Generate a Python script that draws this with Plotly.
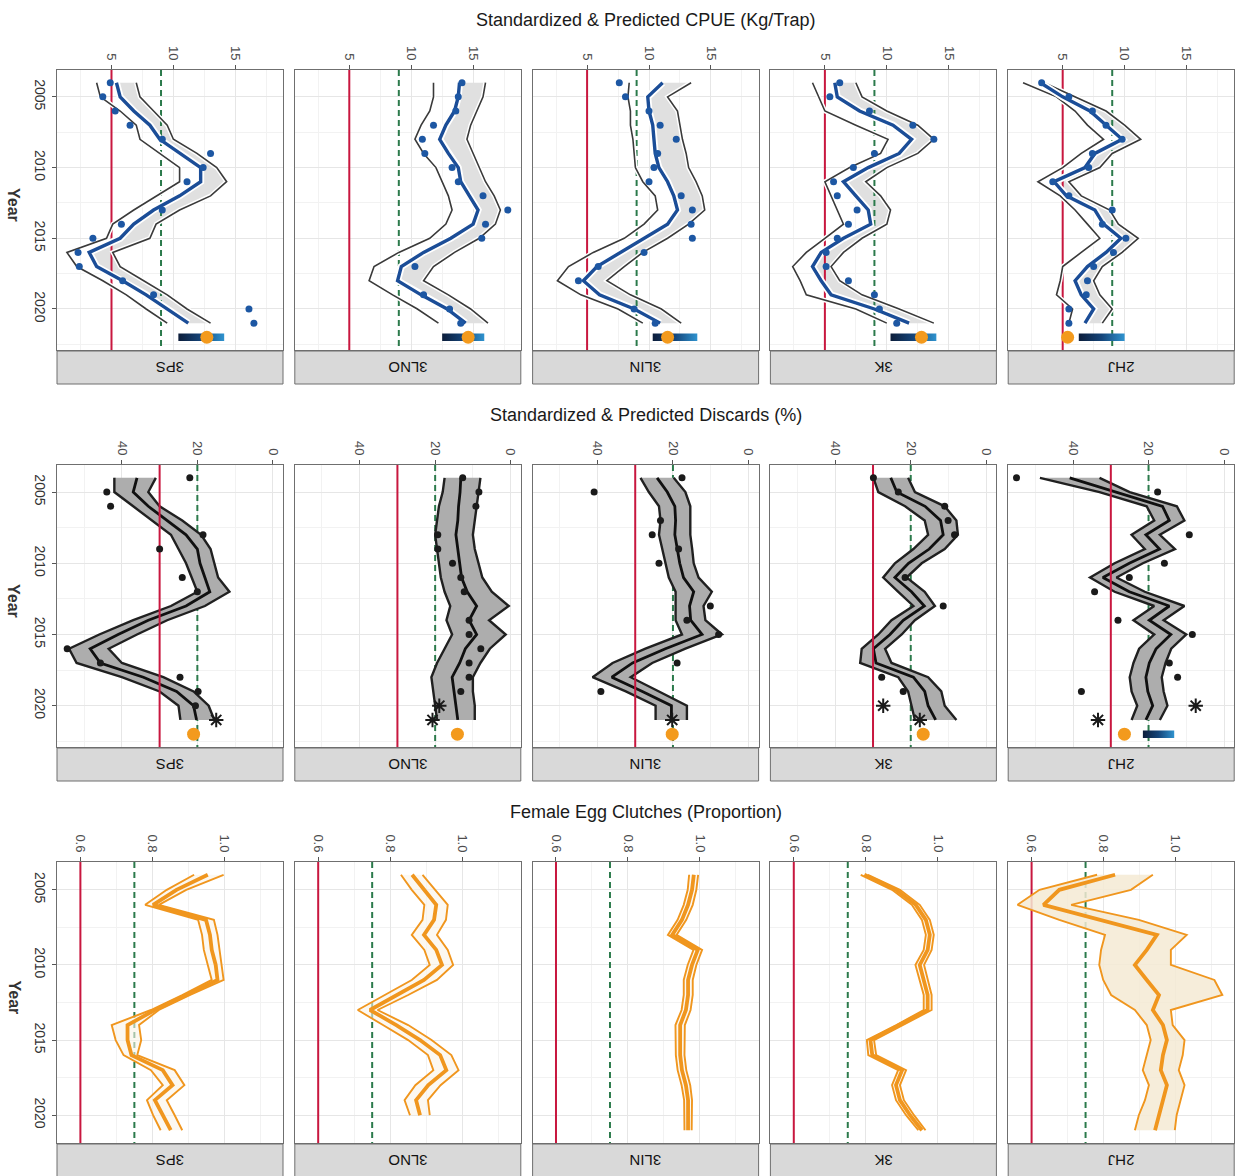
import plotly.graph_objects as go

W, H = 1244, 1176
FONT = "Liberation Sans, Arial, sans-serif"

years = list(range(2004, 2022))
proj_year = 2022
regions = ["3PS", "3LNO", "3LIN", "3K", "2HJ"]

# ---------------- CPUE (kg/trap) ----------------
cpue_mean_3PS = [5.4, 5.7, 6.8, 8.1, 8.9, 10.5, 12.2, 12.2, 10.5, 8.4, 6.8, 5.7, 3.2, 3.8, 5.9, 7.8, 9.5, 11.2]
cpue_lo_3PS = [3.8, 4.1, 5.7, 7.0, 7.3, 8.9, 10.5, 10.5, 8.6, 6.8, 5.1, 4.6, 1.4, 2.2, 4.3, 6.2, 7.8, 9.5]
cpue_hi_3PS = [7.0, 7.3, 8.4, 9.5, 10.0, 11.9, 13.5, 14.3, 13.0, 10.5, 8.6, 8.1, 5.1, 5.7, 7.6, 9.5, 11.1, 13.0]
cpue_obs_3PS = [4.9, 4.3, 5.3, 6.5, 9.1, 13.0, 12.4, 11.1, None, 9.1, 5.8, 3.5, 2.3, 2.4, 5.9, 8.4, 16.1, 16.5]

cpue_mean_3LNO = [13.9, 13.8, 13.5, 12.8, 12.3, 13.0, 13.8, 14.0, 14.7, 15.4, 15.0, 13.2, 11.0, 9.2, 8.9, 10.8, 12.9, 14.4]
cpue_lo_3LNO = [11.8, 11.8, 11.5, 10.8, 10.3, 11.0, 12.0, 12.5, 13.0, 13.3, 12.8, 11.5, 9.0, 7.0, 6.6, 8.5, 10.5, 12.2]
cpue_hi_3LNO = [16.0, 15.8, 15.3, 14.8, 14.5, 15.0, 15.5, 16.0, 16.7, 17.2, 16.8, 15.5, 13.5, 11.8, 11.0, 13.0, 14.8, 16.2]
cpue_obs_3LNO = [14.1, 13.8, 13.6, 11.8, 10.9, 11.1, 13.3, 13.8, 15.8, 17.8, 16.0, 15.7, None, 10.3, None, 11.0, 13.1, 14.0]

cpue_mean_3LIN = [11.1, 9.9, 10.0, 10.3, 10.4, 10.5, 10.8, 11.5, 12.0, 12.3, 11.5, 9.6, 7.8, 5.8, 4.7, 6.0, 8.8, 10.9]
cpue_lo_3LIN = [8.4, 8.3, 8.5, 8.5, 8.7, 8.8, 8.9, 9.5, 10.5, 10.7, 9.6, 8.0, 5.5, 3.5, 2.6, 4.5, 7.5, 9.5]
cpue_hi_3LIN = [13.4, 11.5, 12.3, 12.5, 12.7, 13.0, 13.2, 13.8, 14.3, 14.5, 13.2, 11.5, 9.5, 8.0, 6.6, 8.5, 11.0, 12.6]
cpue_obs_3LIN = [7.6, 8.1, 10.0, 10.9, 12.2, 10.7, 10.4, 10.0, 12.6, 13.5, 13.4, 13.5, 9.6, 5.9, 4.3, None, 8.8, 10.5]

cpue_mean_3K = [5.8, 6.0, 7.8, 10.5, 12.0, 11.0, 8.5, 6.5, 7.5, 8.5, 8.7, 6.5, 4.7, 4.0, 4.7, 5.5, 9.0, 11.8]
cpue_lo_3K = [4.0, 4.5, 5.0, 7.5, 10.1, 9.5, 7.0, 5.0, 5.5, 6.0, 6.5, 5.0, 3.5, 2.4, 3.0, 3.5, 7.5, 10.0]
cpue_hi_3K = [7.5, 8.0, 10.0, 12.5, 13.8, 12.5, 10.0, 8.3, 9.5, 10.3, 10.0, 8.0, 6.5, 5.5, 6.2, 8.0, 11.0, 13.8]
cpue_obs_3K = [6.2, 5.4, 8.6, 12.1, 13.8, 9.0, 7.3, 5.7, 6.0, 7.6, 6.9, 6.0, 5.1, 5.1, 6.9, 9.0, 9.4, 10.8]

cpue_mean_2HJ = [3.2, 5.0, 7.2, 8.5, 9.8, 7.6, 6.8, 4.3, 5.3, 7.6, 8.3, 9.7, 8.5, 7.0, 6.0, 6.5, 7.5, 6.8]
cpue_lo_2HJ = [1.8, 4.5, 6.0, 7.0, 8.3, 6.5, 5.0, 3.0, 4.8, 6.0, 7.0, 8.0, 6.5, 5.0, 4.8, 4.5, 5.8, 5.5]
cpue_hi_2HJ = [3.5, 6.0, 8.5, 10.0, 11.3, 9.0, 8.0, 5.5, 6.5, 8.8, 9.5, 11.1, 9.8, 8.2, 7.5, 8.0, 9.0, 8.2]
cpue_obs_2HJ = [3.3, 5.5, 7.4, 8.5, 9.8, 7.4, 7.1, 4.2, 5.5, 9.0, 8.2, 10.1, 9.1, 7.5, 7.0, 6.9, 5.5, 5.5]

# 2022 projection: range of predicted values and point estimate
cpue_proj_lo = [10.4, 12.5, 10.3, 10.3, 6.3]
cpue_proj_hi = [14.1, 15.9, 13.9, 14.0, 10.0]
cpue_proj_est = [12.7, 14.6, 11.5, 12.8, 5.4]

# ---------------- Discards (%) ----------------
disc_mean_3PS = [36.0, 37.0, 33.0, 28.0, 23.0, 20.0, 19.3, 18.0, 16.7, 23.0, 33.0, 41.0, 48.4, 45.7, 34.3, 25.5, 21.0, 20.2]
disc_hi_3PS = [42, 42, 37, 32, 27, 25, 23, 21.5, 20, 27, 37, 46, 54, 52, 40, 30, 25, 24.5]
disc_lo_3PS = [31, 33, 30, 24, 19, 16.5, 15.5, 14.5, 11.5, 18, 28, 36, 43.5, 40, 29, 21, 17, 15.5]
disc_obs_3PS = [22, 44, 43, None, 18.5, 30, None, 24, 20, None, None, None, 54.5, 45.7, 24.6, 19.8, 20.5, None]

disc_mean_3LNO = [13.2, 13.4, 13.8, 14.0, 14.5, 14.0, 13.6, 13.0, 11.5, 9.0, 11.0, 9.0, 12.0, 13.5, 15.5, 15.0, 14.5, 14.0]
disc_hi_3LNO = [17.5, 18.0, 19.0, 19.5, 20.0, 19.5, 19.0, 18.5, 17.5, 16.0, 17.0, 15.5, 17.5, 19.5, 21.0, 20.5, 20.0, 19.5]
disc_lo_3LNO = [8.0, 8.5, 9.0, 9.5, 10.0, 9.5, 8.5, 7.5, 5.0, 0.5, 5.7, 1.3, 5.5, 8.0, 10.0, 10.0, 9.5, 9.5]
disc_obs_3LNO = [12.7, 8.4, 9.2, None, 19.3, 19.3, 15.4, 13.2, 12.3, None, 11.0, 11.0, 7.9, 11.0, 11.0, 13.2, None, None]

disc_mean_3LIN = [24.2, 21.5, 19.5, 19.3, 19.5, 18.9, 18.2, 17.2, 14.5, 15.6, 15.3, 12.3, 22.0, 30.7, 36.2, 28.1, 20.4, 20.4]
disc_hi_3LIN = [28.6, 26.4, 23.7, 23.3, 23.7, 22.9, 22.0, 21.1, 19.3, 19.3, 19.3, 17.6, 27.3, 36.0, 41.3, 32.5, 24.6, 24.6]
disc_lo_3LIN = [19.8, 16.7, 15.4, 15.4, 15.4, 14.9, 14.5, 13.2, 9.7, 11.9, 11.4, 7.0, 16.7, 25.5, 31.2, 23.7, 16.3, 16.3]
disc_obs_3LIN = [17.6, 40.9, None, 23.3, 25.5, 18.5, 23.7, None, None, 10.1, 16.3, 7.9, None, 18.9, None, 39.1, None, None]

disc_mean_3K = [25.3, 23.7, 16.2, 12.1, 11.4, 15.1, 20.6, 24.2, 19.8, 16.4, 22.0, 25.5, 29.9, 29.2, 19.3, 16.3, 15.4, 13.4]
disc_hi_3K = [29.9, 28.6, 21.5, 16.3, 15.4, 19.3, 24.2, 27.3, 23.3, 19.3, 25.1, 28.6, 33.0, 33.4, 23.3, 20.7, 19.8, 18.9]
disc_lo_3K = [20.7, 18.9, 11.0, 7.9, 7.5, 11.0, 17.1, 21.1, 16.3, 13.6, 18.9, 22.4, 26.8, 25.1, 15.4, 11.9, 11.0, 7.9]
disc_obs_3K = [29.9, 23.3, 11.0, 10.1, 8.4, None, None, 21.5, None, 11.4, None, None, None, None, 27.7, 22.0, None, None]

disc_mean_2HJ = [40.9, 28.6, 16.3, 14.5, 20.7, 17.1, 25.1, 32.1, 25.1, 14.5, 19.8, 14.1, 18.0, 19.8, 20.7, 20.2, 18.9, 20.7]
disc_hi_2HJ = [48.8, 33.0, 20.5, 18.5, 24.5, 21.0, 29.0, 35.5, 29.0, 18.5, 24.0, 18.5, 22.5, 24.0, 25.0, 24.5, 23.0, 24.5]
disc_lo_2HJ = [33.0, 25.0, 12.5, 10.5, 17.0, 13.0, 21.5, 28.5, 21.0, 10.5, 16.0, 10.0, 14.0, 15.5, 16.5, 16.0, 15.0, 17.0]
disc_obs_2HJ = [55.0, 17.6, None, None, 9.2, None, 15.8, 25.1, 34.3, None, 28.1, 8.4, None, 14.5, 12.3, 37.8, None, None]

# flagged (asterisk) observations for 2020 and 2021
disc_flag_2020 = [None, 18.9, None, 27.3, 7.5]
disc_flag_2021 = [15.0, 20.7, 20.2, 17.6, 33.4]
disc_proj_est = [21.0, 14.1, 20.2, 16.7, 26.4]
disc_proj_lo_2HJ = 13.2
disc_proj_hi_2HJ = 21.5

# ---------------- Female egg clutches (proportion) ----------------
egg_mean_3PS = [0.954, 0.867, 0.802, 0.949, 0.960, 0.965, 0.976, 0.981, 0.894, 0.807, 0.731, 0.731, 0.742, 0.829, 0.856, 0.807, 0.829, 0.851]
egg_hi_3PS = [0.998, 0.894, 0.818, 0.971, 0.981, 0.987, 0.992, 0.998, 0.905, 0.818, 0.763, 0.769, 0.758, 0.862, 0.889, 0.840, 0.862, 0.883]
egg_lo_3PS = [0.916, 0.840, 0.780, 0.927, 0.938, 0.943, 0.954, 0.965, 0.883, 0.796, 0.687, 0.698, 0.720, 0.796, 0.829, 0.785, 0.802, 0.823]

egg_mean_3LNO = [0.861, 0.894, 0.928, 0.922, 0.894, 0.928, 0.944, 0.894, 0.817, 0.744, 0.817, 0.883, 0.939, 0.956, 0.906, 0.872, 0.883, None]
egg_hi_3LNO = [0.890, 0.925, 0.960, 0.955, 0.930, 0.960, 0.975, 0.930, 0.850, 0.765, 0.850, 0.915, 0.970, 0.990, 0.940, 0.905, 0.910, None]
egg_lo_3LNO = [0.830, 0.860, 0.895, 0.890, 0.860, 0.895, 0.910, 0.860, 0.785, 0.710, 0.780, 0.850, 0.905, 0.920, 0.870, 0.840, 0.855, None]

egg_mean_3LIN = [0.983, 0.978, 0.967, 0.950, 0.923, 0.994, 0.978, 0.967, 0.967, 0.961, 0.945, 0.945, 0.945, 0.950, 0.961, 0.967, 0.967, 0.967]
egg_hi_3LIN = [0.995, 0.990, 0.980, 0.962, 0.935, 1.006, 0.990, 0.980, 0.980, 0.974, 0.958, 0.958, 0.957, 0.962, 0.973, 0.978, 0.978, 0.977]
egg_lo_3LIN = [0.970, 0.966, 0.955, 0.938, 0.911, 0.982, 0.966, 0.955, 0.955, 0.949, 0.932, 0.932, 0.933, 0.938, 0.949, 0.956, 0.956, 0.957]

egg_mean_3K = [0.796, 0.884, 0.939, 0.967, 0.978, 0.972, 0.950, 0.961, 0.972, 0.972, 0.895, 0.813, 0.818, 0.901, 0.884, 0.895, 0.923, 0.956]
egg_hi_3K = [0.806, 0.895, 0.950, 0.978, 0.989, 0.983, 0.962, 0.973, 0.983, 0.983, 0.905, 0.823, 0.829, 0.912, 0.895, 0.906, 0.934, 0.966]
egg_lo_3K = [0.786, 0.873, 0.928, 0.956, 0.967, 0.961, 0.938, 0.949, 0.961, 0.961, 0.885, 0.803, 0.807, 0.890, 0.873, 0.884, 0.912, 0.946]

egg_mean_2HJ = [0.832, 0.677, 0.633, 0.788, 0.948, 0.920, 0.887, 0.920, 0.954, 0.937, 0.965, 0.976, 0.965, 0.959, 0.976, 0.965, 0.954, 0.943]
egg_hi_2HJ = [0.937, 0.876, 0.710, 0.898, 1.031, 0.987, 0.987, 1.108, 1.130, 0.987, 0.992, 1.025, 1.020, 1.009, 1.025, 1.014, 1.003, 0.998]
egg_lo_2HJ = [0.782, 0.622, 0.561, 0.677, 0.804, 0.793, 0.788, 0.799, 0.821, 0.887, 0.920, 0.931, 0.920, 0.909, 0.926, 0.915, 0.898, 0.887]

# reference points (limit = red, upper = green dashed)
cpue_ref = (5.0, 9.0)
disc_ref = (30.0, 20.0)
egg_ref = (0.6, 0.75)

titles = ["Standardized & Predicted CPUE (Kg/Trap)",
          "Standardized & Predicted Discards (%)",
          "Female Egg Clutches (Proportion)"]

# ---------- tables built from the named lists ----------
cpue = {
    "3PS": (cpue_mean_3PS, cpue_lo_3PS, cpue_hi_3PS, cpue_obs_3PS),
    "3LNO": (cpue_mean_3LNO, cpue_lo_3LNO, cpue_hi_3LNO, cpue_obs_3LNO),
    "3LIN": (cpue_mean_3LIN, cpue_lo_3LIN, cpue_hi_3LIN, cpue_obs_3LIN),
    "3K": (cpue_mean_3K, cpue_lo_3K, cpue_hi_3K, cpue_obs_3K),
    "2HJ": (cpue_mean_2HJ, cpue_lo_2HJ, cpue_hi_2HJ, cpue_obs_2HJ),
}
disc = {
    "3PS": (disc_mean_3PS, disc_lo_3PS, disc_hi_3PS, disc_obs_3PS),
    "3LNO": (disc_mean_3LNO, disc_lo_3LNO, disc_hi_3LNO, disc_obs_3LNO),
    "3LIN": (disc_mean_3LIN, disc_lo_3LIN, disc_hi_3LIN, disc_obs_3LIN),
    "3K": (disc_mean_3K, disc_lo_3K, disc_hi_3K, disc_obs_3K),
    "2HJ": (disc_mean_2HJ, disc_lo_2HJ, disc_hi_2HJ, disc_obs_2HJ),
}
egg = {
    "3PS": (egg_mean_3PS, egg_lo_3PS, egg_hi_3PS),
    "3LNO": (egg_mean_3LNO, egg_lo_3LNO, egg_hi_3LNO),
    "3LIN": (egg_mean_3LIN, egg_lo_3LIN, egg_hi_3LIN),
    "3K": (egg_mean_3K, egg_lo_3K, egg_hi_3K),
    "2HJ": (egg_mean_2HJ, egg_lo_2HJ, egg_hi_2HJ),
}

# ---------- layout geometry (pixels) ----------
col_w = 226
col_left = [57 + c * 237.8 for c in range(5)]
row_top = [70, 465, 862]
row_bot = [350, 747, 1143]
strip_h = 33

row_cfg = [
    dict(xr=[0.6, 18.85], tv=[5, 10, 15], tt=["5", "10", "15"], minor=[2.5, 7.5, 12.5, 17.5],
         yr=[2022.9, 2003.1], ref=cpue_ref),
    dict(xr=[57.2, -2.7], tv=[0, 20, 40], tt=["0", "20", "40"], minor=[10, 30, 50],
         yr=[2022.9, 2003.1], ref=disc_ref),
    dict(xr=[0.535, 1.163], tv=[0.6, 0.8, 1.0], tt=["0.6", "0.8", "1.0"], minor=[0.7, 0.9, 1.1],
         yr=[2021.85, 2003.15], ref=egg_ref),
]

fig = go.Figure()
layout = {}
shapes = []
annotations = []

BORDER = "#6f6f6f"
GRID = "#e6e6e6"
GRID_MINOR = "#f2f2f2"


def axn(k):
    return ("x" if k == 1 else f"x{k}"), ("y" if k == 1 else f"y{k}")


def clean(xs, ys):
    pts = [(x, y) for x, y in zip(xs, ys) if x is not None]
    return [p[0] for p in pts], [p[1] for p in pts]


def add_line(k, xs, color, width, dash=None):
    xa, ya = axn(k)
    x, y = clean(xs, years)
    fig.add_trace(go.Scatter(x=x, y=y, mode="lines", line=dict(color=color, width=width, dash=dash),
                             xaxis=xa, yaxis=ya, hoverinfo="skip", showlegend=False))


def add_band(k, lo, hi, fillcolor):
    xa, ya = axn(k)
    xl, yl = clean(lo, years)
    xh, yh = clean(hi, years)
    fig.add_trace(go.Scatter(x=xh + xl[::-1], y=yh + yl[::-1], fill="toself", fillcolor=fillcolor,
                             mode="none", xaxis=xa, yaxis=ya, hoverinfo="skip", showlegend=False))


def add_points(k, xs, ys, color, size, symbol="circle", lw=0):
    xa, ya = axn(k)
    x, y = clean(xs, ys)
    if not x:
        return
    fig.add_trace(go.Scatter(x=x, y=y, mode="markers",
                             marker=dict(color=color, size=size, symbol=symbol,
                                         line=dict(color=color, width=lw)),
                             xaxis=xa, yaxis=ya, hoverinfo="skip", showlegend=False))


def add_proj_bar(k, lo, hi):
    xa, ya = axn(k)
    cs = [[0, "#0c1d3a"], [0.5, "#15457a"], [1, "#2f93cf"]]
    h = 0.26
    fig.add_trace(go.Scatter(x=[lo, hi, hi, lo, lo],
                             y=[proj_year - h, proj_year - h, proj_year + h, proj_year + h, proj_year - h],
                             fill="toself", mode="none",
                             fillgradient=dict(type="horizontal", colorscale=cs),
                             xaxis=xa, yaxis=ya, hoverinfo="skip", showlegend=False))


def add_vline(k, xv, color, dash=None):
    xa, ya = axn(k)
    yr = row_cfg[(k - 1) // 5]["yr"]
    fig.add_trace(go.Scatter(x=[xv, xv], y=[yr[1], yr[0]], mode="lines",
                             line=dict(color=color, width=2, dash=dash),
                             xaxis=xa, yaxis=ya, hoverinfo="skip", showlegend=False))


for r in range(3):
    cfg = row_cfg[r]
    for c, reg in enumerate(regions):
        k = r * 5 + c + 1
        xkey = "xaxis" if k == 1 else f"xaxis{k}"
        ykey = "yaxis" if k == 1 else f"yaxis{k}"
        xa, ya = axn(k)
        x0 = col_left[c] / W
        x1 = (col_left[c] + col_w) / W
        y0 = 1 - row_bot[r] / H
        y1 = 1 - row_top[r] / H
        layout[xkey] = dict(domain=[x0, x1], range=cfg["xr"], anchor=ya, side="top",
                            tickvals=cfg["tv"], ticktext=cfg["tt"], tickangle=90,
                            ticks="outside", ticklen=4, tickcolor="#555", tickwidth=1,
                            tickfont=dict(family=FONT, size=13, color="#4d4d4d"),
                            showgrid=True, gridcolor=GRID, gridwidth=1,
                            minor=dict(tickvals=cfg["minor"], showgrid=True, gridcolor=GRID_MINOR,
                                       gridwidth=1, ticks=""),
                            showline=True, mirror=True, linecolor=BORDER, linewidth=1,
                            zeroline=False, automargin=False, fixedrange=True)
        layout[ykey] = dict(domain=[y0, y1], range=cfg["yr"], anchor=xa,
                            tickvals=[2005, 2010, 2015, 2020],
                            ticktext=["2005", "2010", "2015", "2020"],
                            showticklabels=(c == 0), ticks=("outside" if c == 0 else ""),
                            ticklen=4, tickcolor="#555", tickangle=90,
                            tickfont=dict(family=FONT, size=14, color="#333"),
                            showgrid=True, gridcolor=GRID, gridwidth=1,
                            minor=dict(tickvals=[2007.5, 2012.5, 2017.5, 2022.5] if r < 2 else [2007.5, 2012.5, 2017.5],
                                       showgrid=True, gridcolor=GRID_MINOR, gridwidth=1, ticks=""),
                            showline=True, mirror=True, linecolor=BORDER, linewidth=1,
                            zeroline=False, automargin=False, fixedrange=True)

        # strip
        sy0 = 1 - (row_bot[r] + 1 + strip_h) / H
        sy1 = 1 - (row_bot[r] + 1) / H
        shapes.append(dict(type="rect", xref="paper", yref="paper", x0=x0, x1=x1, y0=sy0, y1=sy1,
                           fillcolor="#d9d9d9", line=dict(color=BORDER, width=1)))
        annotations.append(dict(x=(x0 + x1) / 2, y=(sy0 + sy1) / 2, xref="paper", yref="paper",
                                xanchor="center", yanchor="middle",
                                text=reg, textangle=180, showarrow=False,
                                font=dict(family=FONT, size=15, color="#111")))

        red, green = cfg["ref"]
        if r == 0:
            mean, lo, hi, obs = cpue[reg]
            add_band(k, mean, hi, "#e0e0e0")
            add_vline(k, red, "#c8173f")
            add_vline(k, green, "#2b7a4b", "6px,4px")
            for s in (lo, hi):
                add_line(k, s, "white", 4.5)
                add_line(k, s, "#3a3a3a", 1.6)
            add_line(k, mean, "white", 7)
            add_line(k, mean, "#1b4d97", 3.4)
            add_points(k, obs, years, "#1d57a3", 7)
            add_proj_bar(k, cpue_proj_lo[c], cpue_proj_hi[c])
            add_points(k, [cpue_proj_est[c]], [proj_year], "#f39a1d", 13)
        elif r == 1:
            mean, lo, hi, obs = disc[reg]
            add_vline(k, green, "#2b7a4b", "6px,4px")
            add_band(k, lo, hi, "#adadad")
            for s in (lo, hi):
                add_line(k, s, "#202020", 2.4)
            add_line(k, mean, "#101010", 2.8)
            add_vline(k, red, "#c8173f")
            add_points(k, obs, years, "#1a1a1a", 7)
            add_points(k, [disc_flag_2020[c], disc_flag_2021[c]], [2020, 2021], "#1a1a1a", 12,
                       symbol="asterisk-open", lw=2)
            if reg == "2HJ":
                add_proj_bar(k, disc_proj_lo_2HJ, disc_proj_hi_2HJ)
            add_points(k, [disc_proj_est[c]], [proj_year], "#f39a1d", 13)
        else:
            mean, lo, hi = egg[reg]
            add_vline(k, red, "#c8173f")
            add_vline(k, green, "#2b7a4b", "6px,4px")
            fill = "rgba(244,234,212,0.85)" if reg == "2HJ" else "rgba(250,244,232,0.6)"
            add_band(k, lo, hi, fill)
            for s in (lo, hi):
                add_line(k, s, "#f0961e", 1.9)
            add_line(k, mean, "#f0961e", 3.8)

# titles
for r, (t, py) in enumerate(zip(titles, [20, 415, 812])):
    annotations.append(dict(x=646 / W, y=1 - py / H, xref="paper", yref="paper", text=t,
                            xanchor="center", yanchor="middle",
                            showarrow=False, font=dict(family=FONT, size=18, color="#1a1a1a")))
# "Year" axis titles
for r in range(3):
    cy = (row_top[r] + row_bot[r]) / 2 - 5
    annotations.append(dict(x=14 / W, y=1 - cy / H, xref="paper", yref="paper", text="<b>Year</b>",
                            xanchor="center", yanchor="middle",
                            textangle=90, showarrow=False,
                            font=dict(family=FONT, size=16, color="#333")))

fig.update_layout(width=W, height=H, margin=dict(l=0, r=0, t=0, b=0),
                  paper_bgcolor="white", plot_bgcolor="white", showlegend=False,
                  shapes=shapes, annotations=annotations, **layout)

fig.write_html("out.html", config={"displayModeBar": False},
               post_script="document.body.style.margin='0px';")
